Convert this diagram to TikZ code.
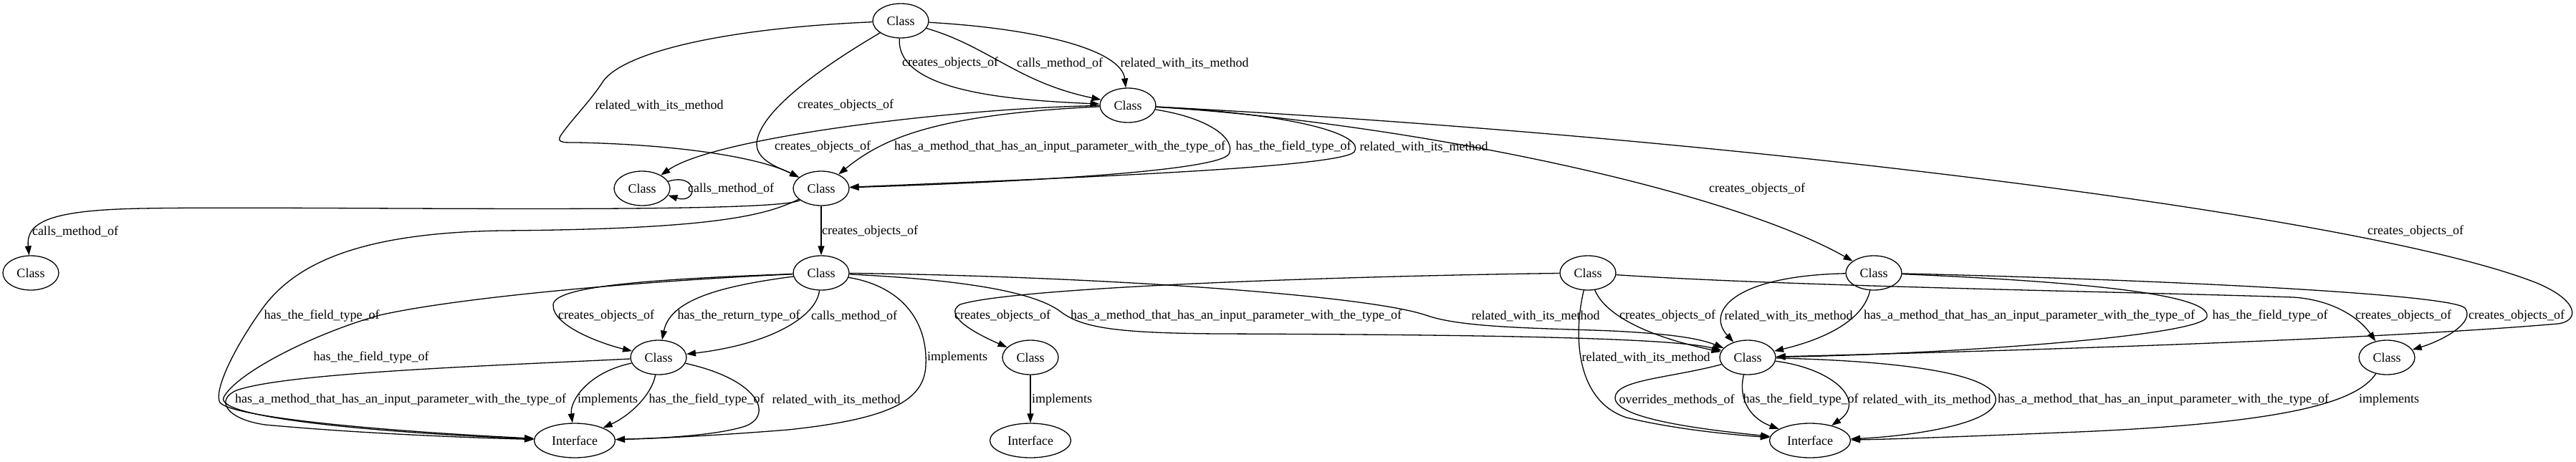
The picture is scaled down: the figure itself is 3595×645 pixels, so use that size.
\documentclass[tikz,border=0pt]{standalone}
\usepackage{fontspec}
\setmainfont{Liberation Serif}
\usetikzlibrary{arrows.meta,shapes.geometric}
\begin{document}
\begin{tikzpicture}[x=1pt,y=-1pt,
  font=\fontsize{18}{21}\selectfont,
  line width=1.3pt,
  cls/.style={ellipse,draw,minimum width=78pt,minimum height=48pt,inner sep=0pt},
  ifc/.style={ellipse,draw,minimum width=113pt,minimum height=48pt,inner sep=0pt},
  lbl/.style={inner sep=0pt},
  conn/.style={draw,-{Triangle[length=13pt,width=9pt]}}]
\useasboundingbox (0,0) rectangle (3595,645);
% nodes
\node[cls] (N1) at (1257,29) {Class};
\node[cls] (N2) at (1574,147) {Class};
\node[cls] (N3) at (896,263) {Class};
\node[cls] (N4) at (1146,263) {Class};
\node[cls] (N5) at (43,381) {Class};
\node[cls] (N6) at (1146,381) {Class};
\node[cls] (N7) at (2216,381) {Class};
\node[cls] (N8) at (2615,381) {Class};
\node[cls] (N9) at (919,499) {Class};
\node[cls] (N10) at (1438,499) {Class};
\node[cls] (N11) at (2439,499) {Class};
\node[cls] (N12) at (3331,499) {Class};
\node[ifc] (I1) at (802,615) {Interface};
\node[ifc] (I2) at (1438,615) {Interface};
\node[ifc] (I3) at (2526,615) {Interface};
% edges
\draw[conn] (N1) .. controls (1000,40) and (870,75) .. (842,113) .. controls (825,140) and (795,170) .. (782,190) .. controls (776,200) and (790,199) .. (805,199) .. controls (950,202) and (1060,220) .. (N4);
\draw[conn] (N1) .. controls (1170,80) and (1060,150) .. (1056,200) .. controls (1055,225) and (1090,235) .. (N4);
\draw[conn] (N1) .. controls (1250,130) and (1420,140) .. (N2);
\draw[conn] (N1) .. controls (1380,65) and (1420,115) .. (N2);
\draw[conn] (N1) .. controls (1450,40) and (1565,70) .. (N2);
\draw[conn] (N2) .. controls (1350,150) and (1000,190) .. (N3);
\draw[conn] (N2) .. controls (1300,160) and (1230,195) .. (N4);
\draw[conn] (N2) .. controls (1690,165) and (1725,195) .. (1715,215) .. controls (1700,240) and (1400,255) .. (N4);
\draw[conn] (N2) .. controls (1820,160) and (1905,190) .. (1890,212) .. controls (1870,235) and (1450,250) .. (N4);
\draw[conn] (N2) .. controls (1950,170) and (2400,260) .. (N8);
\draw[conn] (N2) .. controls (2400,190) and (3300,300) .. (3540,395) .. controls (3600,420) and (3600,448) .. (3570,452) .. controls (3300,475) and (2800,490) .. (N11);
\draw[conn] (N3.15) .. controls (975,240) and (975,286) .. (N3.-15);
\draw[conn] (N4) .. controls (1080,300) and (400,287) .. (200,291) .. controls (70,293) and (36,310) .. (N5);
\draw[conn] (N4) -- (N6);
\draw[conn] (N4) .. controls (1070,300) and (1000,320) .. (700,322) .. controls (520,325) and (420,360) .. (369,427) .. controls (330,480) and (300,540) .. (306,560) .. controls (310,580) and (500,600) .. (I1);
\draw[conn] (N6) .. controls (900,390) and (775,400) .. (772,425) .. controls (770,455) and (840,480) .. (N9);
\draw[conn] (N6) .. controls (1000,400) and (935,420) .. (N9);
\draw[conn] (N6) .. controls (1140,440) and (1080,480) .. (N9);
\draw[conn] (N6) .. controls (1260,400) and (1295,450) .. (1292,510) .. controls (1290,560) and (1240,585) .. (1100,600) .. controls (1000,608) and (920,612) .. (I1);
\draw[conn] (N6) .. controls (900,392) and (640,415) .. (530,440) .. controls (440,465) and (330,520) .. (312,555) .. controls (300,585) and (550,605) .. (I1);
\draw[conn] (N6) .. controls (1330,390) and (1440,405) .. (1480,435) .. controls (1510,458) and (1560,465) .. (1700,466) .. controls (2000,467) and (2330,470) .. (N11);
\draw[conn] (N6) .. controls (1500,385) and (1900,410) .. (1990,440) .. controls (2040,458) and (2150,458) .. (2250,462) .. controls (2330,466) and (2370,472) .. (N11);
\draw[conn] (N7) .. controls (1900,385) and (1420,400) .. (1340,425) .. controls (1315,440) and (1360,465) .. (N10);
\draw[conn] (N7) .. controls (2240,440) and (2300,470) .. (N11);
\draw[conn] (N7) .. controls (2195,470) and (2200,560) .. (2270,583) .. controls (2340,600) and (2420,607) .. (I3);
\draw[conn] (N7) .. controls (2500,400) and (3000,408) .. (3200,415) .. controls (3250,418) and (3290,440) .. (N12);
\draw[conn] (N8) .. controls (2420,385) and (2380,435) .. (N11);
\draw[conn] (N8) .. controls (2600,450) and (2540,475) .. (N11);
\draw[conn] (N8) .. controls (2950,395) and (3085,415) .. (3080,442) .. controls (3075,470) and (2700,495) .. (N11);
\draw[conn] (N8) .. controls (3000,390) and (3420,410) .. (3440,430) .. controls (3455,450) and (3410,475) .. (N12);
\draw[conn] (N9) .. controls (700,510) and (400,520) .. (330,545) .. controls (300,558) and (315,585) .. (370,593) .. controls (500,605) and (650,611) .. (I1);
\draw[conn] (N9) .. controls (820,520) and (795,560) .. (I1);
\draw[conn] (N9) .. controls (910,550) and (880,580) .. (I1);
\draw[conn] (N9) .. controls (1060,530) and (1080,580) .. (1040,595) .. controls (1000,608) and (920,612) .. (I1);
\draw[conn] (N10) -- (I2);
\draw[conn] (N11) .. controls (2330,528) and (2255,530) .. (2254,555) .. controls (2253,585) and (2380,600) .. (I3);
\draw[conn] (N11) .. controls (2425,560) and (2445,585) .. (I3);
\draw[conn] (N11) .. controls (2560,515) and (2605,560) .. (I3);
\draw[conn] (N11) .. controls (2700,505) and (2790,530) .. (2785,560) .. controls (2780,595) and (2650,610) .. (I3);
\draw[conn] (N12) .. controls (3290,560) and (3200,590) .. (2900,603) .. controls (2750,609) and (2650,613) .. (I3);
% labels
\node[lbl] (l1) at (920,147) {related\_with\_its\_method};
\node[lbl] (l2) at (1180,147) {creates\_objects\_of};
\node[lbl] (l3) at (1326,88) {creates\_objects\_of};
\node[lbl] (l4) at (1479,88) {calls\_method\_of};
\node[lbl] (l5) at (1653,88) {related\_with\_its\_method};
\node[lbl] (l6) at (1148,205) {creates\_objects\_of};
\node[lbl] (l7) at (1479,205) {has\_a\_method\_that\_has\_an\_input\_parameter\_with\_the\_type\_of};
\node[lbl] (l8) at (1805,205) {has\_the\_field\_type\_of};
\node[lbl] (l9) at (1987,205) {related\_with\_its\_method};
\node[lbl] (l10) at (2452,264) {creates\_objects\_of};
\node[lbl] (l11) at (3371,323) {creates\_objects\_of};
\node[lbl] (l12) at (1020,263) {calls\_method\_of};
\node[lbl] (l13) at (105,323) {calls\_method\_of};
\node[lbl] (l14) at (1214,323) {creates\_objects\_of};
\node[lbl] (l15) at (449,441) {has\_the\_field\_type\_of};
\node[lbl] (l16) at (846,441) {creates\_objects\_of};
\node[lbl] (l17) at (1031,441) {has\_the\_return\_type\_of};
\node[lbl] (l18) at (1192,441) {calls\_method\_of};
\node[lbl] (l19) at (1336,499) {implements};
\node[lbl] (l20) at (518,499) {has\_the\_field\_type\_of};
\node[lbl] (l21) at (1725,441) {has\_a\_method\_that\_has\_an\_input\_parameter\_with\_the\_type\_of};
\node[lbl] (l22) at (2143,441) {related\_with\_its\_method};
\node[lbl] (l23) at (1399,441) {creates\_objects\_of};
\node[lbl] (l24) at (2327,441) {creates\_objects\_of};
\node[lbl] (l25) at (2297,499) {related\_with\_its\_method};
\node[lbl] (l26) at (3354,441) {creates\_objects\_of};
\node[lbl] (l27) at (2496,441) {related\_with\_its\_method};
\node[lbl] (l28) at (2832,441) {has\_a\_method\_that\_has\_an\_input\_parameter\_with\_the\_type\_of};
\node[lbl] (l29) at (3168,441) {has\_the\_field\_type\_of};
\node[lbl] (l30) at (3512,441) {creates\_objects\_of};
\node[lbl] (l31) at (559,558) {has\_a\_method\_that\_has\_an\_input\_parameter\_with\_the\_type\_of};
\node[lbl] (l32) at (848,558) {implements};
\node[lbl] (l33) at (986,558) {has\_the\_field\_type\_of};
\node[lbl] (l34) at (1167,558) {related\_with\_its\_method};
\node[lbl] (l35) at (1482,558) {implements};
\node[lbl] (l36) at (2340,558) {overrides\_methods\_of};
\node[lbl] (l37) at (2513,558) {has\_the\_field\_type\_of};
\node[lbl] (l38) at (2689,558) {related\_with\_its\_method};
\node[lbl] (l39) at (3019,558) {has\_a\_method\_that\_has\_an\_input\_parameter\_with\_the\_type\_of};
\node[lbl] (l40) at (3334,558) {implements};
\end{tikzpicture}
\end{document}
